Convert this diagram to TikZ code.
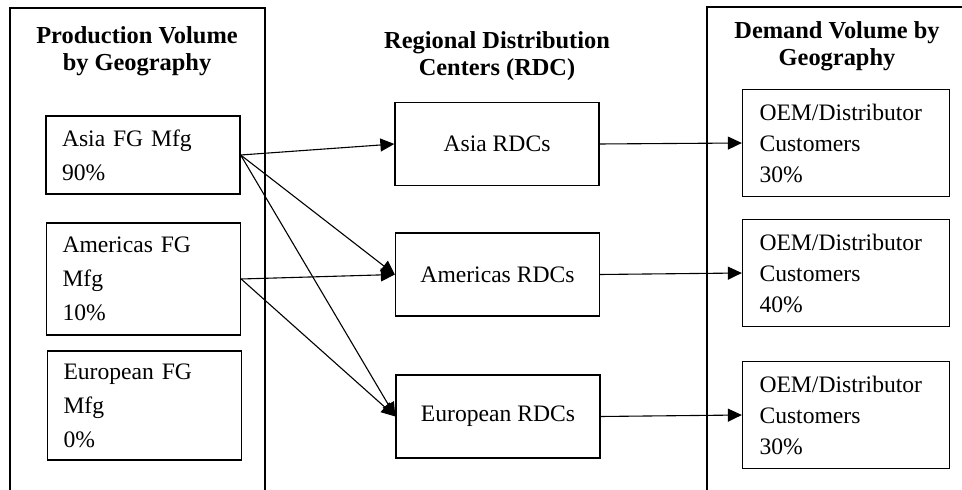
\documentclass[tikz,border=0pt]{standalone}
\usepackage{fontspec}
\setmainfont{Liberation Serif}
\usetikzlibrary{arrows.meta, positioning}
\tikzstyle{arrow} = [line width=0.55pt,-{Triangle[length=7pt,width=6.5pt]}]
\tikzstyle{title} = [align=center, font=\bfseries\fontsize{12.2}{13.5}\selectfont]
\tikzstyle{plantbox} = [draw, line width=0.65pt, align=left, text width=81pt, inner xsep=8pt, font=\fontsize{11.8}{17}\selectfont]
\tikzstyle{rdcbox} = [draw, line width=0.65pt, align=center, minimum width=102pt, minimum height=41.5pt, font=\fontsize{11.8}{16}\selectfont]
\tikzstyle{custbox} = [draw, line width=0.65pt, align=left, text width=86.5pt, inner xsep=8.5pt, minimum height=53.5pt, font=\fontsize{11.8}{15.5}\selectfont]

\begin{document}
\begin{tikzpicture}[x=0.5pt, y=-0.5pt]
        \useasboundingbox (0,0) rectangle (962,490);

        % frames
        \draw[line width=0.65pt] (10,490) -- (10,8) -- (265,8) -- (265,490);
        \draw[line width=0.65pt] (707,490) -- (707,7) -- (962,7);

        % titles
        \node[title] (prodtitle) at (137,51) {Production Volume\\by Geography};
        \node[title] (rdctitle) at (497,56) {Regional Distribution\\Centers (RDC)};
        \node[title] (demtitle) at (837,46) {Demand Volume by\\Geography};

        % production
        \node[plantbox, minimum height=39pt] (asiafg) at (143,155) {Asia FG Mfg\\90\%};
        \node[plantbox, minimum height=56pt] (amerfg) at (143.5,279) {Americas FG\\Mfg\\10\%};
        \node[plantbox, minimum height=54.5pt] (eurofg) at (144.5,405.5) {European FG\\Mfg\\0\%};

        % distribution centers
        \node[rdcbox] (asiardc) at (497,144) {Asia RDCs};
        \node[rdcbox] (amerrdc) at (497.5,274.5) {Americas RDCs};
        \node[rdcbox] (eurordc) at (498,416.5) {European RDCs};

        % demand
        \node[custbox] (asiacust) at (846,143) {OEM/Distributor\\Customers\\30\%};
        \node[custbox] (amercust) at (846,273) {OEM/Distributor\\Customers\\40\%};
        \node[custbox] (eurocust) at (846,415) {OEM/Distributor\\Customers\\30\%};

        \draw[arrow] (asiafg.east) -- (asiardc.west);
        \draw[arrow] (asiafg.east) -- (amerrdc.west);
        \draw[arrow] (asiafg.east) -- (eurordc.west);
        \draw[arrow] (amerfg.east) -- (amerrdc.west);
        \draw[arrow] (amerfg.east) -- (eurordc.west);

        \draw[arrow] (asiardc.east) -- (asiacust.west);
        \draw[arrow] (amerrdc.east) -- (amercust.west);
        \draw[arrow] (eurordc.east) -- (eurocust.west);

    \end{tikzpicture}
\end{document}
